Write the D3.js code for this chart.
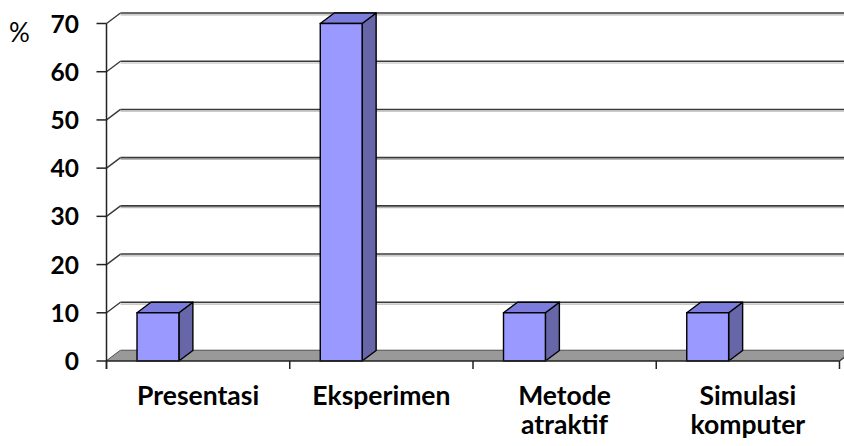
<!DOCTYPE html>
<html>
<head>
<meta charset="utf-8">
<script src="https://cdn.jsdelivr.net/npm/d3@7"></script>
<style>
  html, body { margin: 0; padding: 0; background: #fff; }
  svg { display: block; }
</style>
</head>
<body>
<div id="chart"></div>
<script>
const categories = ["Presentasi", "Eksperimen", "Metode atraktif", "Simulasi komputer"];
const values = [10, 70, 10, 10];
const yTicks = [0, 10, 20, 30, 40, 50, 60, 70];
const yUnit = "%";

const W = 844, H = 446;
const FONT = "Lato, 'Open Sans', 'DejaVu Sans', sans-serif";
const depthX = 14, depthY = -10.5;

const svg = d3.select("#chart").append("svg")
  .attr("width", W).attr("height", H);

const x = d3.scaleBand().domain(categories).range([106.5, 839.5]).paddingInner(0).paddingOuter(0);
const y = d3.scaleLinear().domain([0, 70]).range([361, 23.5]);
const bw = x.bandwidth();
const x0 = x.range()[0], x1 = x.range()[1];

// back wall gridlines (shadow + line)
const grid = svg.append("g");
yTicks.forEach(t => {
  const yb = y(t) + depthY;
  grid.append("line")
    .attr("x1", x0 + depthX).attr("x2", W + 20)
    .attr("y1", yb + 1.8).attr("y2", yb + 1.8)
    .attr("stroke", "#b8b8b8").attr("stroke-width", 1.2);
  grid.append("line")
    .attr("x1", x0 + depthX).attr("x2", W + 20)
    .attr("y1", yb).attr("y2", yb)
    .attr("stroke", "#3a3a3a").attr("stroke-width", 1.6);
  grid.append("line")
    .attr("x1", x0).attr("y1", y(t))
    .attr("x2", x0 + depthX).attr("y2", yb)
    .attr("stroke", "#3a3a3a").attr("stroke-width", 1.4);
});

// floor
svg.append("path")
  .attr("d", `M${x0},${y(0)} L${x1},${y(0)} L${x1 + depthX},${y(0) + depthY} L${x0 + depthX},${y(0) + depthY} Z`)
  .attr("fill", "#999999");
svg.append("line")
  .attr("x1", x1).attr("y1", y(0)).attr("x2", x1 + depthX).attr("y2", y(0) + depthY)
  .attr("stroke", "#3a3a3a").attr("stroke-width", 1.4);

// bars
const bars = svg.append("g").selectAll("g").data(categories).join("g");
bars.each(function(c, i) {
  const g = d3.select(this);
  const bx = x(c) + bw * 0.1665;
  const bwid = bw * 0.2285;
  const yt = y(values[i]), yb = y(0);
  g.append("path")
    .attr("d", `M${bx + bwid},${yb} L${bx + bwid + depthX},${yb + depthY} L${bx + bwid + depthX},${yt + depthY} L${bx + bwid},${yt} Z`)
    .attr("fill", "#6666a8").attr("stroke", "#000").attr("stroke-width", 1.4).attr("stroke-linejoin", "round");
  g.append("path")
    .attr("d", `M${bx},${yt} L${bx + depthX},${yt + depthY} L${bx + bwid + depthX},${yt + depthY} L${bx + bwid},${yt} Z`)
    .attr("fill", "#7c7cdc").attr("stroke", "#000").attr("stroke-width", 1.4).attr("stroke-linejoin", "round");
  g.append("rect")
    .attr("x", bx).attr("y", yt).attr("width", bwid).attr("height", yb - yt)
    .attr("fill", "#9999ff").attr("stroke", "#000").attr("stroke-width", 1.4);
});

// value axis
const yAxis = svg.append("g");
yAxis.append("line")
  .attr("x1", x0).attr("x2", x0).attr("y1", y(70)).attr("y2", y(0) + 8)
  .attr("stroke", "#222").attr("stroke-width", 1.5);
yAxis.selectAll("line.tick").data(yTicks).join("line")
  .attr("class", "tick")
  .attr("x1", x0 - 10).attr("x2", x0).attr("y1", d => y(d)).attr("y2", d => y(d))
  .attr("stroke", "#222").attr("stroke-width", 1.5);
yAxis.selectAll("text").data(yTicks).join("text")
  .attr("x", 79).attr("y", d => y(d) + 9)
  .attr("text-anchor", "end")
  .attr("font-family", FONT).attr("font-weight", "bold").attr("font-size", 24.5)
  .attr("fill", "#000")
  .text(d => d);

svg.append("text")
  .attr("x", 9).attr("y", 42)
  .attr("font-family", FONT).attr("font-size", 26).attr("fill", "#000")
  .text(yUnit);

// category axis
const xAxis = svg.append("g");
xAxis.append("line")
  .attr("x1", x0).attr("x2", x1).attr("y1", y(0)).attr("y2", y(0))
  .attr("stroke", "#222").attr("stroke-width", 1.5);
const tickXs = categories.map(c => x(c)).concat([x1]);
xAxis.selectAll("line.tick").data(tickXs).join("line")
  .attr("class", "tick")
  .attr("x1", d => d).attr("x2", d => d).attr("y1", y(0)).attr("y2", y(0) + 8)
  .attr("stroke", "#222").attr("stroke-width", 1.5);
xAxis.selectAll("text").data(categories).join("text")
  .attr("text-anchor", "middle")
  .attr("font-family", FONT).attr("font-weight", "bold").attr("font-size", 26.5)
  .attr("fill", "#000")
  .each(function(c) {
    const t = d3.select(this);
    c.split(" ").forEach((w, k) => {
      t.append("tspan").attr("x", x(c) + bw / 2).attr("y", 405 + k * 29).text(w);
    });
  });
</script>
</body>
</html>
